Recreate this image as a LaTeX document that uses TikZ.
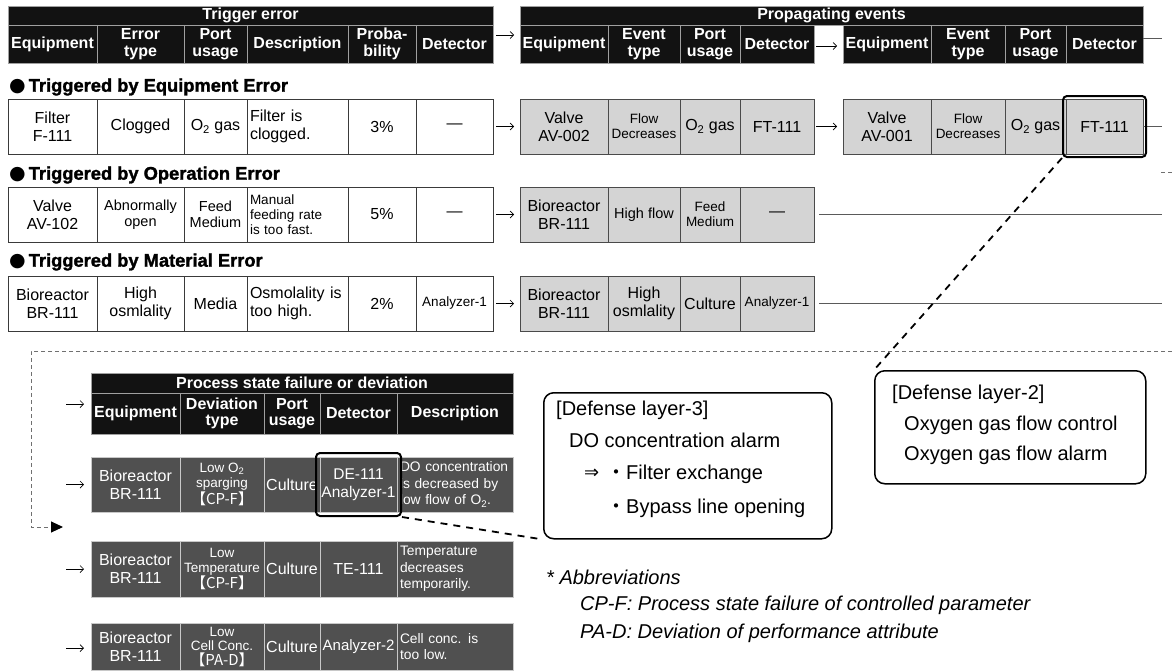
\documentclass[tikz,border=0pt]{standalone}
\usepackage{fontspec}
\setmainfont{Liberation Sans}
\newfontfamily\symfont{DejaVu Sans}
\newfontfamily\cjkfont{Noto Sans CJK JP}
\newfontfamily\labelfont[BoldFeatures={FakeBold=1.6}]{Liberation Sans}
\usetikzlibrary{arrows.meta,fit,calc}

\newcommand\pxfont[2]{\fontsize{#1}{#2}\selectfont}

\definecolor{hdblack}{HTML}{121212}
\definecolor{hdline}{HTML}{A0A0A0}
\definecolor{tline}{HTML}{3A3A3A}
\definecolor{pgrey}{HTML}{D4D4D4}
\definecolor{pline}{HTML}{4A4A4A}
\definecolor{dgrey}{HTML}{505050}
\definecolor{dline}{HTML}{C8C8C8}
\definecolor{wire}{HTML}{5A5A5A}
\definecolor{framegrey}{HTML}{707070}

% table cell: style, name, x1, y1, x2, y2, text (pixel-like units, y downwards)
\newcommand\mkcell[7]{%
  \pgfmathsetmacro\cw{#5-#3}\pgfmathsetmacro\ch{#6-#4}%
  \node[#1, minimum width=\cw pt, minimum height=\ch pt] (#2) at (#3,#4) {#7};}
% left-aligned table cell
\newcommand\mklcell[7]{%
  \pgfmathsetmacro\cw{#5-#3-6}\pgfmathsetmacro\ch{#6-#4}%
  \node[#1, align=left, inner xsep=3pt, text width=\cw pt, minimum height=\ch pt,
        execute at begin node={\hyphenpenalty=10000\exhyphenpenalty=10000}] (#2) at (#3,#4) {#7};}

\tikzset{
  base/.style={anchor=north west, outer sep=0pt, inner xsep=1pt, inner ysep=0pt, align=center},
  hd/.style={base, fill=hdblack, draw=hdline, line width=0.8pt, text=white, font=\bfseries\pxfont{16}{16.5}},
  tc/.style={base, fill=white, draw=tline, line width=0.9pt, font=\pxfont{16}{18}},
  pc/.style={base, fill=pgrey, draw=pline, line width=0.9pt, font=\pxfont{16}{18}},
  dc/.style={base, fill=dgrey, draw=dline, line width=0.9pt, text=white, font=\pxfont{16}{18}},
  small/.style={font=\pxfont{14.5}{16}},
  tiny/.style={font=\pxfont{13.5}{15}},
  desc/.style={font=\pxfont{13.8}{16.5}},
  sect/.style={anchor=west, inner sep=0pt, font=\labelfont\bfseries\pxfont{18.3}{19}},
  arr/.style={draw=black, line width=0.7pt, -{Straight Barb[length=3.5pt,width=7pt]}},
  wireline/.style={draw=wire, line width=1pt},
  frameline/.style={draw=framegrey, line width=1pt, dash pattern=on 4pt off 3pt},
  hilite/.style={draw=black, line width=2pt, rounded corners=4pt},
  diag/.style={draw=black, line width=1.8pt, dash pattern=on 7pt off 6pt},
  defbox/.style={draw=black, line width=1.5pt, rounded corners=10pt, anchor=north west, inner sep=0pt},
  deftext/.style={anchor=west, inner sep=0pt, font=\pxfont{20}{22}},
  abbr/.style={anchor=west, inner sep=0pt, font=\itshape\pxfont{20}{22}},
}

\begin{document}
\begin{tikzpicture}[x=1pt, y=-1pt]
\useasboundingbox (0,0) rectangle (1172,670);

% ---------- headers ----------
\mkcell{hd}{tTitle}{8}{6}{493}{25}{Trigger error}
\mkcell{hd}{tEq}{8}{25}{97}{63}{Equipment}
\mkcell{hd}{tTy}{97}{25}{184}{63}{Error\\type}
\mkcell{hd}{tPo}{184}{25}{247}{63}{Port\\usage}
\mkcell{hd}{tDe}{247}{25}{348}{63}{Description}
\mkcell{hd}{tPr}{348}{25}{416}{63}{Proba-\\bility}
\mkcell{hd}{tDt}{416}{25}{493}{63}{Detector}

\mkcell{hd}{pTitle}{520}{6}{1143}{25}{Propagating events}
\mkcell{hd}{pEq}{520}{25}{608}{63}{Equipment}
\mkcell{hd}{pTy}{608}{25}{680}{63}{Event\\type}
\mkcell{hd}{pPo}{680}{25}{740}{63}{Port\\usage}
\mkcell{hd}{pDt}{740}{25}{814}{63}{Detector}
\mkcell{hd}{qEq}{843}{25}{931}{63}{Equipment}
\mkcell{hd}{qTy}{931}{25}{1005}{63}{Event\\type}
\mkcell{hd}{qPo}{1005}{25}{1066}{63}{Port\\usage}
\mkcell{hd}{qDt}{1066}{25}{1143}{63}{Detector}

% ---------- section labels ----------
\node[sect] (s1) at (9,87) {{\symfont\pxfont{19}{19}●}\hspace{3pt}Triggered by Equipment Error};
\node[sect] (s2) at (9,175) {{\symfont\pxfont{19}{19}●}\hspace{3pt}Triggered by Operation Error};
\node[sect] (s3) at (9,262) {{\symfont\pxfont{19}{19}●}\hspace{3pt}Triggered by Material Error};

% ---------- row 1 ----------
\mkcell{tc}{t1Eq}{8}{99}{97}{154}{Filter\\F-111}
\mkcell{tc}{t1Ty}{97}{99}{184}{154}{Clogged}
\mkcell{tc}{t1Po}{184}{99}{247}{154}{O\textsubscript{2} gas}
\mklcell{tc}{t1De}{247}{99}{348}{154}{Filter is\\clogged.}
\mkcell{tc}{t1Pr}{348}{99}{416}{154}{3\%}
\mkcell{tc}{t1Dt}{416}{99}{493}{154}{—}

\mkcell{pc}{p1Eq}{520}{99}{608}{154}{Valve\\AV-002}
\mkcell{pc,tiny}{p1Ty}{608}{99}{680}{154}{Flow\\Decreases}
\mkcell{pc}{p1Po}{680}{99}{740}{154}{O\textsubscript{2} gas}
\mkcell{pc}{p1Dt}{740}{99}{814}{154}{FT-111}
\mkcell{pc}{q1Eq}{843}{99}{931}{154}{Valve\\AV-001}
\mkcell{pc,tiny}{q1Ty}{931}{99}{1005}{154}{Flow\\Decreases}
\mkcell{pc}{q1Po}{1005}{99}{1066}{154}{O\textsubscript{2} gas}
\mkcell{pc}{q1Dt}{1066}{99}{1143}{154}{FT-111}

% ---------- row 2 ----------
\mkcell{tc}{t2Eq}{8}{187}{97}{242}{Valve\\AV-102}
\mkcell{tc,small}{t2Ty}{97}{187}{184}{242}{Abnormally\\open}
\mkcell{tc,small}{t2Po}{184}{187}{247}{242}{Feed\\Medium}
\mklcell{tc,tiny}{t2De}{247}{187}{348}{242}{Manual\\feeding rate\\is too fast.}
\mkcell{tc}{t2Pr}{348}{187}{416}{242}{5\%}
\mkcell{tc}{t2Dt}{416}{187}{493}{242}{—}

\mkcell{pc}{p2Eq}{520}{187}{608}{242}{Bioreactor\\BR-111}
\mkcell{pc,small}{p2Ty}{608}{187}{680}{242}{High flow}
\mkcell{pc,tiny}{p2Po}{680}{187}{740}{242}{Feed\\Medium}
\mkcell{pc}{p2Dt}{740}{187}{814}{242}{—}

% ---------- row 3 ----------
\mkcell{tc}{t3Eq}{8}{276}{97}{331}{Bioreactor\\BR-111}
\mkcell{tc}{t3Ty}{97}{276}{184}{331}{High\\osmlality}
\mkcell{tc}{t3Po}{184}{276}{247}{331}{Media}
\mklcell{tc}{t3De}{247}{276}{348}{331}{Osmolality is\\too high.}
\mkcell{tc}{t3Pr}{348}{276}{416}{331}{2\%}
\mkcell{tc,tiny}{t3Dt}{416}{276}{493}{331}{Analyzer-1}

\mkcell{pc}{p3Eq}{520}{276}{608}{331}{Bioreactor\\BR-111}
\mkcell{pc}{p3Ty}{608}{276}{680}{331}{High\\osmlality}
\mkcell{pc}{p3Po}{680}{276}{740}{331}{Culture}
\mkcell{pc,tiny}{p3Dt}{740}{276}{814}{331}{Analyzer-1}

% ---------- connectors between tables ----------
\draw[arr, shorten <=3pt, shorten >=6pt] ([yshift=9pt]tDt.east) -- ([yshift=9pt]pEq.west);
\draw[arr, shorten <=2pt, shorten >=6pt] ([yshift=-2pt]pDt.east) -- ([yshift=-2pt]qEq.west);
\draw[arr, shorten <=3pt, shorten >=6pt] (t1Dt.east) -- (p1Eq.west);
\draw[arr, shorten <=2pt, shorten >=6pt] (p1Dt.east) -- (q1Eq.west);
\draw[arr, shorten <=3pt, shorten >=6pt] (t2Dt.east) -- (p2Eq.west);
\draw[arr, shorten <=3pt, shorten >=6pt] (t3Dt.east) -- (p3Eq.west);

\coordinate (hEnd) at (1162,38);
\coordinate (r1End) at (1162,126.5);
\coordinate (r2End) at (1162,214.5);
\coordinate (r3End) at (1162,303.5);
\draw[wireline] ([yshift=6pt]qDt.east) -- (hEnd);
\draw[wireline] (q1Dt.east) -- (r1End);
\draw[wireline] ([xshift=5pt]p2Dt.east) -- (r2End);
\draw[wireline] ([xshift=5pt]p3Dt.east) -- (r3End);

% ---------- process state table ----------
\mkcell{hd}{xTitle}{91}{373}{513}{393}{Process state failure or deviation}
\mkcell{hd}{xEq}{91}{393}{180}{434}{Equipment}
\mkcell{hd}{xTy}{180}{393}{264}{434}{Deviation\\type}
\mkcell{hd}{xPo}{264}{393}{320}{434}{Port\\usage}
\mkcell{hd}{xDt}{320}{393}{397}{434}{Detector}
\mkcell{hd}{xDe}{397}{393}{513}{434}{Description}

\mkcell{dc}{aEq}{91}{457}{180}{512}{Bioreactor\\BR-111}
\mkcell{dc,tiny}{aTy}{180}{457}{264}{512}{Low O\textsubscript{2}\\sparging\\{\cjkfont\pxfont{15}{17}【CP-F】}}
\mkcell{dc}{aPo}{264}{457}{320}{512}{Culture}
\mkcell{dc,font=\pxfont{15.5}{18}}{aDt}{320}{457}{397}{512}{DE-111\\Analyzer-1}
\mklcell{dc,desc}{aDe}{397}{457}{513}{512}{DO concentration\\is decreased by\\low flow of O\textsubscript{2}.}

\mkcell{dc}{bEq}{91}{541}{180}{597}{Bioreactor\\BR-111}
\mkcell{dc,tiny}{bTy}{180}{541}{264}{597}{Low\\Temperature\\{\cjkfont\pxfont{15}{17}【CP-F】}}
\mkcell{dc}{bPo}{264}{541}{320}{597}{Culture}
\mkcell{dc}{bDt}{320}{541}{397}{597}{TE-111}
\mklcell{dc,desc}{bDe}{397}{541}{513}{597}{Temperature\\decreases\\temporarily.}

\mkcell{dc}{cEq}{91}{623}{180}{670}{Bioreactor\\BR-111}
\mkcell{dc,font=\pxfont{13.5}{14.5}}{cTy}{180}{623}{264}{670}{Low\\Cell Conc.\\{\cjkfont\pxfont{15}{16}【PA-D】}}
\mkcell{dc}{cPo}{264}{623}{320}{670}{Culture}
\mkcell{dc,font=\pxfont{15}{18}}{cDt}{320}{623}{397}{670}{Analyzer-2}
\mklcell{dc,desc}{cDe}{397}{623}{513}{670}{Cell conc. is\\too low.}

\coordinate (xhIn) at (66,404);
\coordinate (aIn) at (66,484.5);
\coordinate (bIn) at (66,569);
\coordinate (cIn) at (66,648);
\draw[arr, shorten >=7pt] (xhIn) -- (xEq.west |- xhIn);
\draw[arr, shorten >=7pt] (aIn) -- (aEq.west |- aIn);
\draw[arr, shorten >=7pt] (bIn) -- (bEq.west |- bIn);
\draw[arr, shorten >=7pt] (cIn) -- (cEq.west |- cIn);

% ---------- dashed frame around the process part ----------
\coordinate (fR) at (1172,351);
\coordinate (fTL) at (31,351);
\coordinate (fBL) at (31,527);
\coordinate (fTip) at (63,527);
\draw[frameline, -{Triangle[length=12pt,width=11pt,color=black]}] (fR) -- (fTL) -- (fBL) -- (fTip);
\coordinate (fragA) at (1161,172);
\coordinate (fragB) at (1172,172);
\draw[frameline] (fragA) -- (fragB);

% ---------- defense layers ----------
\node[defbox, minimum width=288pt, minimum height=146pt] (def3) at (543,392) {};
\node[deftext] (d3a) at (556,410) {[Defense layer-3]};
\node[deftext] (d3b) at (569,440) {DO concentration alarm};
\node[deftext, font=\symfont\pxfont{18}{20}] (d3c) at (584,474) {⇒};
\node[deftext] (d3d) at (606,474) {{\cjkfont ・}Filter exchange};
\node[deftext] (d3e) at (606,508) {{\cjkfont ・}Bypass line opening};

\node[defbox, minimum width=271pt, minimum height=113pt] (def2) at (874,370) {};
\node[deftext] (d2a) at (892,394) {[Defense layer-2]};
\node[deftext] (d2b) at (904,425) {Oxygen gas flow control};
\node[deftext] (d2c) at (904,455) {Oxygen gas flow alarm};

% ---------- highlighted detectors ----------
\node[hilite, fit=(q1Dt), inner sep=3pt] (hlFT) {};
\node[hilite, fit=(aDt), inner sep=4pt] (hlA) {};
\draw[diag] (hlFT.south west) -- (def2.north west);
\draw[diag] (hlA.south east) -- (def3.south west);

% ---------- abbreviations ----------
\node[abbr] (ab0) at (546,577) {* Abbreviations};
\node[abbr] (ab1) at (580,605) {CP-F: Process state failure of controlled parameter};
\node[abbr] (ab2) at (580,633) {PA-D: Deviation of performance attribute};
\end{tikzpicture}
\end{document}
